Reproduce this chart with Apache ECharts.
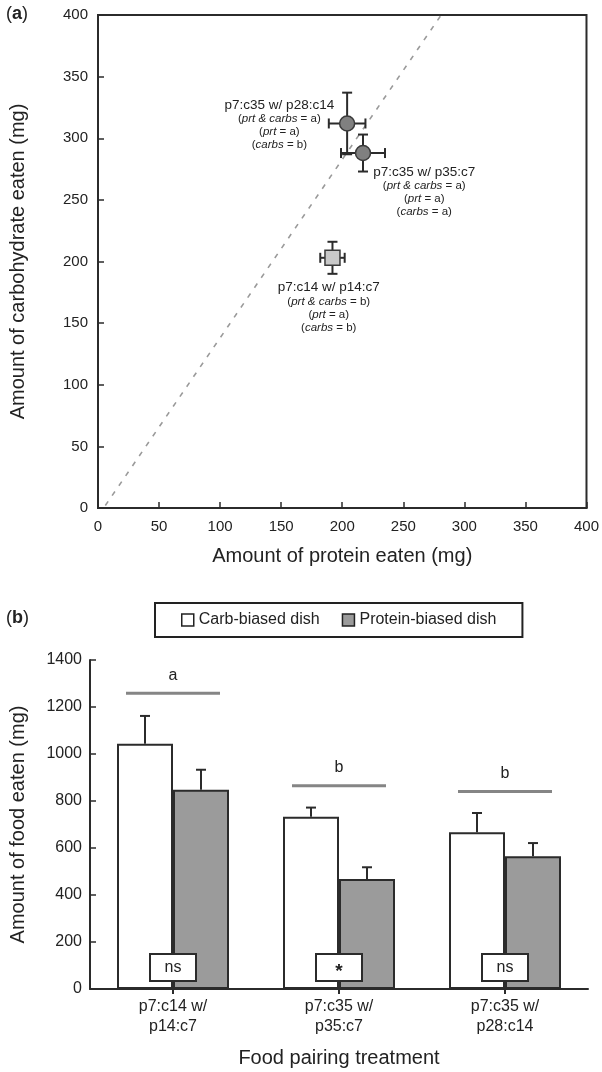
<!DOCTYPE html>
<html>
<head>
<meta charset="utf-8">
<script src="https://cdn.jsdelivr.net/npm/echarts@6.0.0/dist/echarts.min.js"></script>
<style>
  html, body { margin: 0; padding: 0; background: #fff; }
  #chart { width: 602px; height: 1072px; }
</style>
</head>
<body>
<div id="chart"></div>
<script>
/* Two-panel figure: (a) protein vs carbohydrate eaten, (b) food eaten per dish. */

// panel (a)
const pointNames = ["p7:c35 w/ p28:c14", "p7:c35 w/ p35:c7", "p7:c14 w/ p14:c7"];
const proteinEaten = [204, 217, 192];
const carbsEaten = [312, 288, 203];
const proteinErr = [15, 18, 10];
const carbsErr = [25, 15, 13];
const prtCarbsLetter = ["a", "a", "b"];
const prtLetter = ["a", "a", "a"];
const carbsLetter = ["b", "a", "b"];
const railProtein = [6, 281];
const railCarbs = [2, 400];

// panel (b)
const categories = ["p7:c14 w/\np14:c7", "p7:c35 w/\np35:c7", "p7:c35 w/\np28:c14"];
const carbDish = [1044, 733, 667];
const carbDishErr = [118, 39, 82];
const proteinDish = [848, 468, 565];
const proteinDishErr = [85, 50, 56];
const groupLetters = ["a", "b", "b"];
const groupLetterLevel = [1258, 865, 840];
const pairTest = ["ns", "*", "ns"];

const FONT = "'Liberation Sans', Arial, sans-serif";
const INK = "#222";
const LINE = "#2b2b2b";
const BAR_W = 56;
const SYM = 15;

const chart = echarts.init(document.getElementById("chart"), null, { renderer: "canvas" });

function seg(x1, y1, x2, y2, width, color) {
  return { type: "line", shape: { x1: x1, y1: y1, x2: x2, y2: y2 },
           style: { stroke: color || LINE, lineWidth: width || 2 } };
}

function renderPointErr(params, api) {
  const x = api.value(0), y = api.value(1), ex = api.value(2), ey = api.value(3);
  const l = api.coord([x - ex, y]), r = api.coord([x + ex, y]);
  const t = api.coord([x, y + ey]), b = api.coord([x, y - ey]);
  const cap = 5;
  return { type: "group", children: [
    seg(l[0], l[1], r[0], r[1]),
    seg(t[0], t[1], b[0], b[1]),
    seg(l[0], l[1] - cap, l[0], l[1] + cap),
    seg(r[0], r[1] - cap, r[0], r[1] + cap),
    seg(t[0] - cap, t[1], t[0] + cap, t[1]),
    seg(b[0] - cap, b[1], b[0] + cap, b[1])
  ] };
}

function barErr(shift) {
  return function (params, api) {
    const i = api.value(0), v = api.value(1), e = api.value(2);
    const base = api.coord([i, v]), top = api.coord([i, v + e]);
    const x = base[0] + shift;
    return { type: "group", children: [
      seg(x, base[1], x, top[1]),
      seg(x - 5, top[1], x + 5, top[1])
    ] };
  };
}

function renderLetters(params, api) {
  const p = api.coord([api.value(0), api.value(1)]);
  return { type: "group", children: [
    seg(p[0] - 47, p[1], p[0] + 47, p[1], 3, "#858585"),
    { type: "text", x: p[0], y: p[1] - 18,
      style: { text: groupLetters[params.dataIndex], fill: INK, fontSize: 16, fontFamily: FONT,
               align: "center", verticalAlign: "middle" } }
  ] };
}

function renderPairTest(params, api) {
  const p = api.coord([api.value(0), 0]);
  const mark = pairTest[params.dataIndex];
  const star = mark === "*";
  return { type: "group", children: [
    { type: "rect", shape: { x: p[0] - 23, y: p[1] - 35, width: 46, height: 27 },
      style: { fill: "#fff", stroke: LINE, lineWidth: 2 } },
    { type: "text", x: p[0], y: p[1] - 21 + (star ? 4 : 0),
      style: { text: mark, fill: INK, fontSize: star ? 19 : 16, fontWeight: star ? "bold" : "normal",
               fontFamily: FONT, align: "center", verticalAlign: "middle" } }
  ] };
}

function annot(i) {
  return "{m|" + pointNames[i] + "}\n" +
    "{s|(}{i|prt & carbs}{s| = " + prtCarbsLetter[i] + ")}\n" +
    "{s|(}{i|prt}{s| = " + prtLetter[i] + ")}\n" +
    "{s|(}{i|carbs}{s| = " + carbsLetter[i] + ")}";
}

// label anchor (centre of first line's top) relative to the marker centre
const labelShift = [[-67, -25], [62, 12], [-3, 23]];

const axisText = { color: INK, fontFamily: FONT, fontSize: 15 };
const nameText = { color: INK, fontFamily: FONT, fontSize: 20 };
const axisLine = { show: true, lineStyle: { color: LINE, width: 2 } };

chart.setOption({
  animation: false,
  textStyle: { fontFamily: FONT },
  grid: [
    { left: 91.5, top: 15, width: 495.5, height: 493, show: true, borderColor: LINE, borderWidth: 2 },
    { left: 88, top: 660, width: 500, height: 329 }
  ],
  graphic: [
    { type: "text", left: 6, top: 5,
      style: { text: "({b|a})", fontSize: 18, fontFamily: FONT, fill: INK,
               rich: { b: { fontSize: 18, fontWeight: "bold", fontFamily: FONT, fill: INK } } } },
    { type: "text", left: 6, top: 609,
      style: { text: "({b|b})", fontSize: 18, fontFamily: FONT, fill: INK,
               rich: { b: { fontSize: 18, fontWeight: "bold", fontFamily: FONT, fill: INK } } } }
  ],
  legend: {
    left: 155, top: 603,
    padding: [9, 26],
    borderColor: "#222", borderWidth: 2,
    itemWidth: 12, itemHeight: 12, itemGap: 22,
    icon: "rect",
    textStyle: { color: INK, fontFamily: FONT, fontSize: 16 },
    data: [
      { name: "Carb-biased dish", itemStyle: { color: "#fff", borderColor: "#222", borderWidth: 1.5 } },
      { name: "Protein-biased dish", itemStyle: { color: "#9b9b9b", borderColor: "#222", borderWidth: 1.5 } }
    ]
  },
  xAxis: [
    {
      gridIndex: 0, type: "value", min: 0, max: 400, interval: 50,
      axisLine: axisLine,
      axisTick: { show: true, inside: true, length: 6, lineStyle: { color: LINE, width: 1.5 } },
      axisLabel: Object.assign({ margin: 11 }, axisText),
      splitLine: { show: false },
      name: "Amount of protein eaten (mg)", nameLocation: "middle", nameGap: 38, nameTextStyle: nameText
    },
    {
      gridIndex: 1, type: "category", data: categories,
      axisLine: axisLine,
      axisTick: { show: true, alignWithLabel: true, length: 5, lineStyle: { color: LINE, width: 2 } },
      axisLabel: Object.assign({ margin: 8, lineHeight: 20 }, axisText, { fontSize: 16 }),
      name: "Food pairing treatment", nameLocation: "middle", nameGap: 59, nameTextStyle: nameText
    }
  ],
  yAxis: [
    {
      gridIndex: 0, type: "value", min: 0, max: 400, interval: 50,
      axisLine: axisLine,
      axisTick: { show: true, inside: true, length: 6, lineStyle: { color: LINE, width: 1.5 } },
      axisLabel: Object.assign({ margin: 10 }, axisText),
      splitLine: { show: false },
      name: "Amount of carbohydrate eaten (mg)", nameLocation: "middle", nameGap: 70, nameTextStyle: nameText
    },
    {
      gridIndex: 1, type: "value", min: 0, max: 1400, interval: 200,
      axisLine: axisLine,
      axisTick: { show: true, inside: true, length: 6, lineStyle: { color: LINE, width: 1.5 } },
      axisLabel: Object.assign({ margin: 8, formatter: function (v) { return String(v); } }, axisText, { fontSize: 16 }),
      splitLine: { show: false },
      name: "Amount of food eaten (mg)", nameLocation: "middle", nameGap: 62, nameTextStyle: nameText
    }
  ],
  series: [
    {
      type: "line", xAxisIndex: 0, yAxisIndex: 0, z: 1,
      data: railProtein.map(function (p, i) { return [p, railCarbs[i]]; }),
      symbol: "none", silent: true,
      lineStyle: { color: "#9a9a9a", width: 1.6, type: [5, 7] }
    },
    {
      type: "custom", xAxisIndex: 0, yAxisIndex: 0, z: 2,
      data: pointNames.map(function (n, i) {
        return [proteinEaten[i], carbsEaten[i], proteinErr[i], carbsErr[i]];
      }),
      renderItem: renderPointErr
    },
    {
      type: "scatter", xAxisIndex: 0, yAxisIndex: 0, z: 3,
      symbolSize: SYM,
      itemStyle: { borderColor: "#3a3a3a", borderWidth: 1.5, opacity: 1 },
      label: {
        show: true, align: "center", verticalAlign: "top",
        rich: {
          m: { fontSize: 13.5, lineHeight: 15, color: INK, fontFamily: FONT, align: "center" },
          s: { fontSize: 11.5, lineHeight: 13, color: INK, fontFamily: FONT, align: "center" },
          i: { fontSize: 11.5, lineHeight: 13, color: INK, fontFamily: FONT, fontStyle: "italic", align: "center" }
        }
      },
      labelLayout: { hideOverlap: false },
      data: pointNames.map(function (n, i) {
        return {
          name: n,
          value: [proteinEaten[i], carbsEaten[i]],
          symbol: i === 2 ? "rect" : "circle",
          itemStyle: { color: i === 2 ? "#c9c9c9" : "#808080" },
          label: {
            position: [labelShift[i][0] + SYM / 2, labelShift[i][1] + SYM / 2],
            formatter: annot(i)
          }
        };
      })
    },
    {
      name: "Carb-biased dish", type: "bar", xAxisIndex: 1, yAxisIndex: 1,
      data: carbDish, barWidth: BAR_W, barGap: "0%",
      itemStyle: { color: "#fff", borderColor: LINE, borderWidth: 2 }
    },
    {
      name: "Protein-biased dish", type: "bar", xAxisIndex: 1, yAxisIndex: 1,
      data: proteinDish, barWidth: BAR_W, barGap: "0%",
      itemStyle: { color: "#9b9b9b", borderColor: LINE, borderWidth: 2 }
    },
    {
      type: "custom", xAxisIndex: 1, yAxisIndex: 1, z: 3,
      data: categories.map(function (c, i) { return [i, carbDish[i], carbDishErr[i]]; }),
      renderItem: barErr(-BAR_W / 2)
    },
    {
      type: "custom", xAxisIndex: 1, yAxisIndex: 1, z: 3,
      data: categories.map(function (c, i) { return [i, proteinDish[i], proteinDishErr[i]]; }),
      renderItem: barErr(BAR_W / 2)
    },
    {
      type: "custom", xAxisIndex: 1, yAxisIndex: 1, z: 3,
      data: categories.map(function (c, i) { return [i, groupLetterLevel[i]]; }),
      renderItem: renderLetters
    },
    {
      type: "custom", xAxisIndex: 1, yAxisIndex: 1, z: 4,
      data: categories.map(function (c, i) { return [i, 0]; }),
      renderItem: renderPairTest
    }
  ]
});
</script>
</body>
</html>
